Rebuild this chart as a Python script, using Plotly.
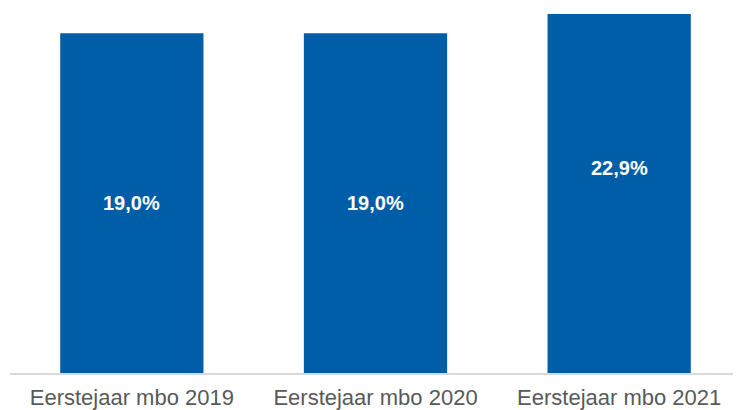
import plotly.graph_objects as go

categories = ["Eerstejaar mbo 2019", "Eerstejaar mbo 2020", "Eerstejaar mbo 2021"]
values = [19.0, 19.0, 22.9]
labels = ["19,0%", "19,0%", "22,9%"]

bar_color = "#005EA8"

fig = go.Figure(go.Bar(
    x=categories, y=values, marker=dict(color=bar_color, line=dict(width=0)),
    textposition="none", hoverinfo="skip"))

for c, v, t in zip(categories, values, labels):
    fig.add_annotation(x=c, y=v / 2, text="<b>" + t + "</b>", showarrow=False,
                       font=dict(family="Liberation Sans, Arial", size=20, color="white"),
                       xref="x", yref="y")

fig.update_layout(
    width=733, height=402,
    margin=dict(l=2, r=0, t=6, b=35),
    paper_bgcolor="white", plot_bgcolor="white",
    bargap=0.412,
    showlegend=False,
    xaxis=dict(showgrid=False, showline=True, linecolor="#D9D9D9", linewidth=1.5,
               ticks="", ticklabelstandoff=4,
               tickfont=dict(family="Liberation Sans, Arial", size=22, color="#595959")),
    yaxis=dict(range=[0, 20.08], visible=False, showgrid=False, zeroline=False),
)

fig.write_html("out.html")
